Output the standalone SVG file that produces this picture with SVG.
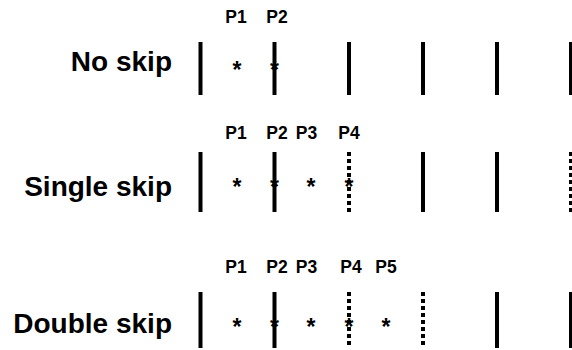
<svg xmlns="http://www.w3.org/2000/svg" width="572" height="350" viewBox="0 0 572 350">
<style>
.lbl{font-family:"Liberation Sans",Arial,sans-serif;font-weight:bold;font-size:28px;fill:#000;text-anchor:end}
.p{font-family:"Liberation Sans",Arial,sans-serif;font-weight:bold;font-size:17.5px;fill:#000;text-anchor:middle}
.ast{font-family:"Liberation Sans",Arial,sans-serif;font-weight:bold;font-size:23px;fill:#000;text-anchor:middle}
.solid{stroke:#000;stroke-width:4}
.dot{stroke:#000;stroke-width:4;stroke-dasharray:4 3}
</style>
<rect width="572" height="350" fill="#fff"/>
<g id="row-noskip">
<text class="lbl" x="172" y="71">No skip</text>
<text class="p" x="236" y="23">P1</text>
<text class="p" x="277" y="23">P2</text>
<line class="solid" x1="200.5" y1="42" x2="200.5" y2="95"/>
<line class="solid" x1="274.5" y1="42" x2="274.5" y2="95"/>
<line class="solid" x1="349" y1="42" x2="349" y2="95"/>
<line class="solid" x1="423" y1="42" x2="423" y2="95"/>
<line class="solid" x1="497" y1="42" x2="497" y2="95"/>
<line class="solid" x1="571" y1="42" x2="571" y2="95"/>
<text class="ast" x="237" y="78">*</text>
<text class="ast" x="274.5" y="78">*</text>
</g>
<g id="row-single">
<text class="lbl" x="172" y="196">Single skip</text>
<text class="p" x="236" y="139">P1</text>
<text class="p" x="277" y="139">P2</text>
<text class="p" x="306.5" y="139">P3</text>
<text class="p" x="349" y="139">P4</text>
<line class="solid" x1="200.5" y1="152" x2="200.5" y2="212"/>
<line class="solid" x1="274.5" y1="152" x2="274.5" y2="212"/>
<line class="dot" x1="349" y1="152" x2="349" y2="212"/>
<line class="solid" x1="423" y1="152" x2="423" y2="212"/>
<line class="solid" x1="497" y1="152" x2="497" y2="212"/>
<line class="dot" x1="571" y1="152" x2="571" y2="212"/>
<text class="ast" x="237" y="195">*</text>
<text class="ast" x="274.5" y="195">*</text>
<text class="ast" x="311" y="195">*</text>
<text class="ast" x="349" y="195">*</text>
</g>
<g id="row-double">
<text class="lbl" x="172" y="333">Double skip</text>
<text class="p" x="236" y="273">P1</text>
<text class="p" x="277" y="273">P2</text>
<text class="p" x="306.5" y="273">P3</text>
<text class="p" x="351" y="273">P4</text>
<text class="p" x="386" y="273">P5</text>
<line class="solid" x1="200.5" y1="292" x2="200.5" y2="348"/>
<line class="solid" x1="274.5" y1="292" x2="274.5" y2="348"/>
<line class="dot" x1="349" y1="292" x2="349" y2="348"/>
<line class="dot" x1="423" y1="292" x2="423" y2="348"/>
<line class="solid" x1="497" y1="292" x2="497" y2="348"/>
<line class="solid" x1="571" y1="292" x2="571" y2="348"/>
<text class="ast" x="237" y="335">*</text>
<text class="ast" x="274.5" y="335">*</text>
<text class="ast" x="311" y="335">*</text>
<text class="ast" x="349" y="335">*</text>
<text class="ast" x="386" y="335">*</text>
</g>
</svg>
